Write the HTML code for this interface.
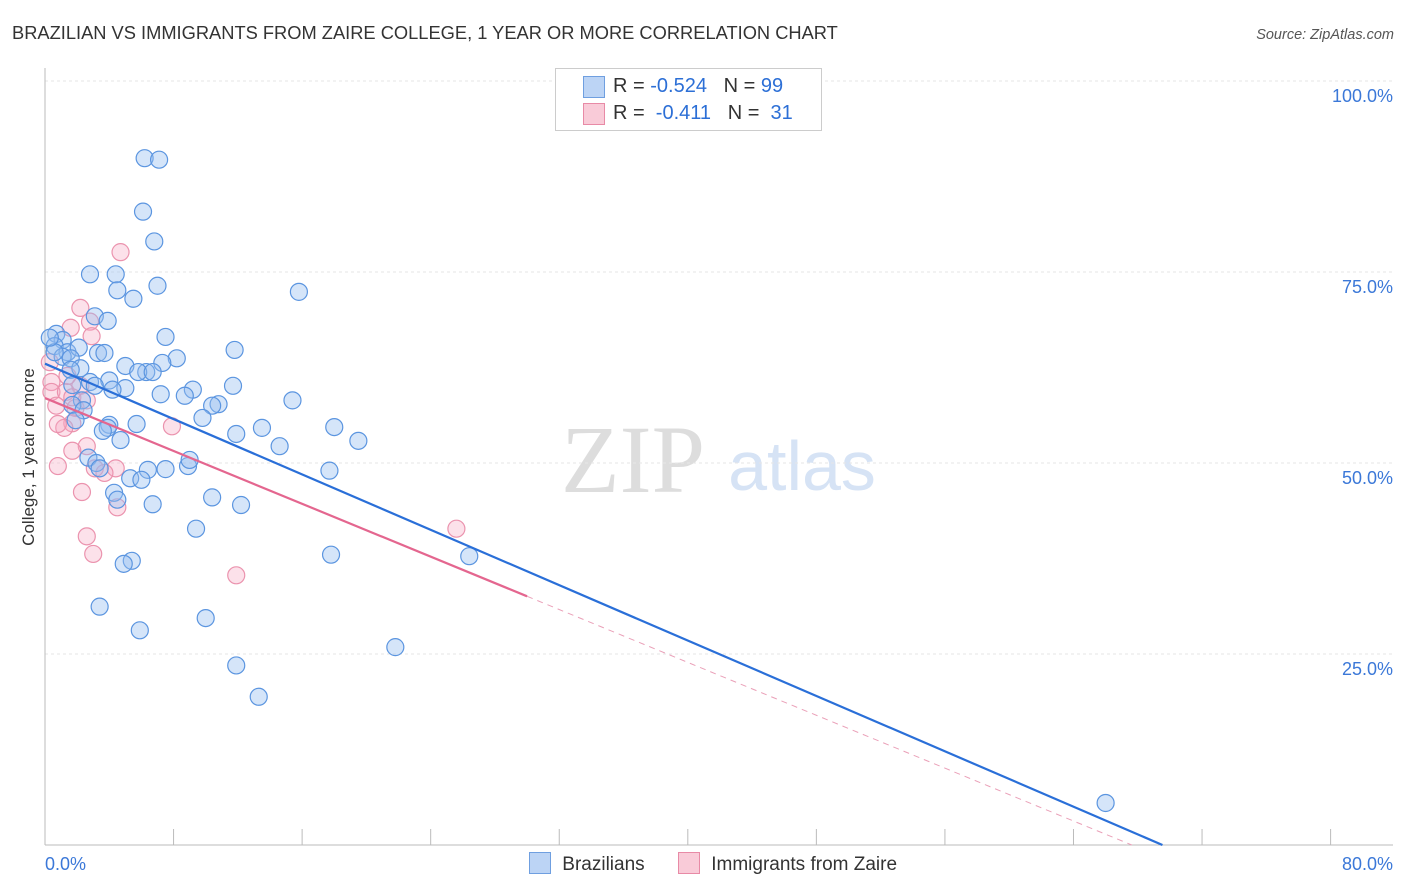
<!DOCTYPE html>
<html><head><meta charset="utf-8">
<style>
body{margin:0;background:#fff;font-family:"Liberation Sans",sans-serif;}
#wrap{position:relative;width:1406px;height:892px;overflow:hidden;}
</style></head>
<body>
<div id="wrap">
<svg id="svg" width="1406" height="892" xmlns="http://www.w3.org/2000/svg">
<text x="12" y="39" font-size="18.3" fill="#333">BRAZILIAN VS IMMIGRANTS FROM ZAIRE COLLEGE, 1 YEAR OR MORE CORRELATION CHART</text>
<text x="1394" y="39" font-size="14.5" fill="#555" font-style="italic" text-anchor="end">Source: ZipAtlas.com</text>
<text x="633" y="492" font-size="96" fill="#ddd" font-family="Liberation Serif,serif" text-anchor="middle">ZIP</text>
<text x="802" y="490" font-size="70" fill="#d6e3f5" text-anchor="middle">atlas</text>
<text transform="translate(34,457) rotate(-90)" font-size="17" fill="#333" text-anchor="middle">College, 1 year or more</text>
<g id="grid"></g><g id="marks"></g>
</svg>
<div style="position:absolute;left:555px;top:68px;width:265px;height:61px;border:1px solid #ccc;background:#fff;font-size:20px;color:#333">
 <div style="position:absolute;left:27px;top:7px;width:20px;height:20px;background:#bcd4f5;border:1px solid #6f9fe0"></div>
 <div style="position:absolute;left:57px;top:6px">R = <span style="color:#2c6fd6">-0.524</span> &nbsp; N = <span style="color:#2c6fd6">99</span></div>
 <div style="position:absolute;left:27px;top:34px;width:20px;height:20px;background:#f9cbd8;border:1px solid #e88aa6"></div>
 <div style="position:absolute;left:57px;top:33px">R = &nbsp;<span style="color:#2c6fd6">-0.411</span> &nbsp; N = &nbsp;<span style="color:#2c6fd6">31</span></div>
</div>
<div style="position:absolute;left:529px;top:852px;font-size:19px;color:#333">
 <span style="display:inline-block;width:20px;height:20px;background:#bcd4f5;border:1px solid #6f9fe0;vertical-align:-4px"></span>
 <span style="margin-left:6px">Brazilians</span>
 <span style="display:inline-block;width:20px;height:20px;background:#f9cbd8;border:1px solid #e88aa6;vertical-align:-4px;margin-left:28px"></span>
 <span style="margin-left:6px">Immigrants from Zaire</span>
</div>
</div>
<script>
const blueX=[6.2,7.1,6.1,6.8,2.8,4.4,7.0,4.5,5.5,15.8,3.1,3.9,7.5,0.7,1.1,0.6,1.4,2.1,3.3,3.7,1.1,1.6,8.2,11.8,7.3,5.0,6.3,5.8,6.7,2.2,1.6,2.8,4.0,1.7,3.1,11.7,5.0,4.2,9.2,8.7,7.2,2.3,1.7,10.8,10.4,9.8,15.4,2.4,4.0,1.9,5.7,3.9,3.6,13.5,11.9,18.0,4.7,19.5,14.6,2.7,3.2,6.4,7.5,8.9,9.0,3.4,17.7,5.3,6.0,4.3,4.5,10.4,6.7,12.2,9.4,5.4,4.9,17.8,26.4,3.4,5.9,10.0,21.8,11.9,13.3,66.0,0.6,0.3];
const blueY=[89.9,89.7,82.9,79.0,74.7,74.7,73.2,72.6,71.5,72.4,69.2,68.6,66.5,66.9,66.1,65.3,64.5,65.1,64.4,64.4,63.9,63.7,63.7,64.8,63.1,62.7,61.9,61.9,61.9,62.4,62.2,60.6,60.8,60.2,60.1,60.1,59.8,59.6,59.6,58.8,59.0,58.2,57.6,57.7,57.5,55.9,58.2,56.9,55.0,55.6,55.1,54.6,54.2,54.6,53.8,54.7,53.0,52.9,52.2,50.7,50.0,49.1,49.2,49.6,50.4,49.3,49.0,48.0,47.8,46.1,45.2,45.5,44.6,44.5,41.4,37.2,36.8,38.0,37.8,31.2,28.1,29.7,25.9,23.5,19.4,5.5,64.5,66.4];
const pinkX=[4.7,2.2,2.8,1.6,2.9,0.3,0.4,0.4,1.3,2.2,0.7,1.9,1.7,1.2,0.8,2.6,1.7,3.1,4.4,0.8,3.7,2.3,4.5,7.9,2.6,3.0,11.9,25.6,1.7,1.4,2.6];
const pinkY=[77.6,70.3,68.5,67.7,66.6,63.2,60.6,59.3,59.3,60.1,57.5,57.2,55.2,54.6,55.1,52.2,51.6,49.3,49.3,49.6,48.7,46.2,44.2,54.8,40.4,38.1,35.3,41.4,58.6,61.4,58.2];
const blueTrend=[63.0,-0.906];
const pinkTrend=[58.5,-0.865];
const pinkSolidEnd=30;
const xTicks=[0,8,16,24,32,40,48,56,64,72,80];
const yTicks=[25,50,75,100];
const NS="http://www.w3.org/2000/svg";
const sx=v=>45+v*16.07, sy=v=>845-v*7.64;
function mk(tag,attrs,parent){const e=document.createElementNS(NS,tag);for(const k in attrs)e.setAttribute(k,attrs[k]);parent.appendChild(e);return e;}
const grid=document.getElementById('grid'),marks=document.getElementById('marks');
yTicks.forEach(t=>{
 const l=mk('line',{x1:45,x2:1393,y1:sy(t),y2:sy(t),stroke:'#e6e6e6','stroke-dasharray':'3,3'},grid);
 
 
 const tx=mk('text',{x:1393,y:sy(t)+21,'font-size':18,fill:'#3b78d8','text-anchor':'end'},grid);
 tx.textContent=t.toFixed(1)+'%';
 
 
});
let ax=mk('line',{x1:45,x2:45,y1:68,y2:845,stroke:'#bbb'},grid);


ax=mk('line',{x1:45,x2:1393,y1:845,y2:845,stroke:'#bbb'},grid);


xTicks.forEach(t=>{
 const l=mk('line',{x1:sx(t),x2:sx(t),y1:829,y2:845,stroke:'#bbb'},grid);
 
 
});
[[0,'start',45],[80,'end',1393]].forEach(([v,a,x])=>{
 const tx=mk('text',{x:x,y:870,'font-size':18,fill:'#3b78d8','text-anchor':a},grid);
 tx.textContent=v.toFixed(1)+'%';
 
 
});
pinkX.forEach((x,i)=>{
 const c=mk('circle',{cx:sx(x),cy:sy(pinkY[i]),r:8.5,fill:'rgba(245,170,195,0.35)',stroke:'#eb93ae','stroke-width':1.2},marks);
 
 
});
blueX.forEach((x,i)=>{
 const c=mk('circle',{cx:sx(x),cy:sy(blueY[i]),r:8.5,fill:'rgba(150,190,240,0.4)',stroke:'#5b95e0','stroke-width':1.2},marks);
 
 
});
const bEnd=-blueTrend[0]/blueTrend[1];
let ln=mk('line',{x1:sx(0),y1:sy(blueTrend[0]),x2:sx(bEnd),y2:sy(0),stroke:'#2a6fd8','stroke-width':2.2},marks);


const pEnd=-pinkTrend[0]/pinkTrend[1];
ln=mk('line',{x1:sx(0),y1:sy(pinkTrend[0]),x2:sx(pinkSolidEnd),y2:sy(pinkTrend[0]+pinkTrend[1]*pinkSolidEnd),stroke:'#e4668f','stroke-width':2.2},marks);


ln=mk('line',{x1:sx(pinkSolidEnd),y1:sy(pinkTrend[0]+pinkTrend[1]*pinkSolidEnd),x2:sx(pEnd),y2:sy(0),stroke:'#eaa0b8','stroke-width':1,'stroke-dasharray':'6,5'},marks);


</script>
</body></html>
